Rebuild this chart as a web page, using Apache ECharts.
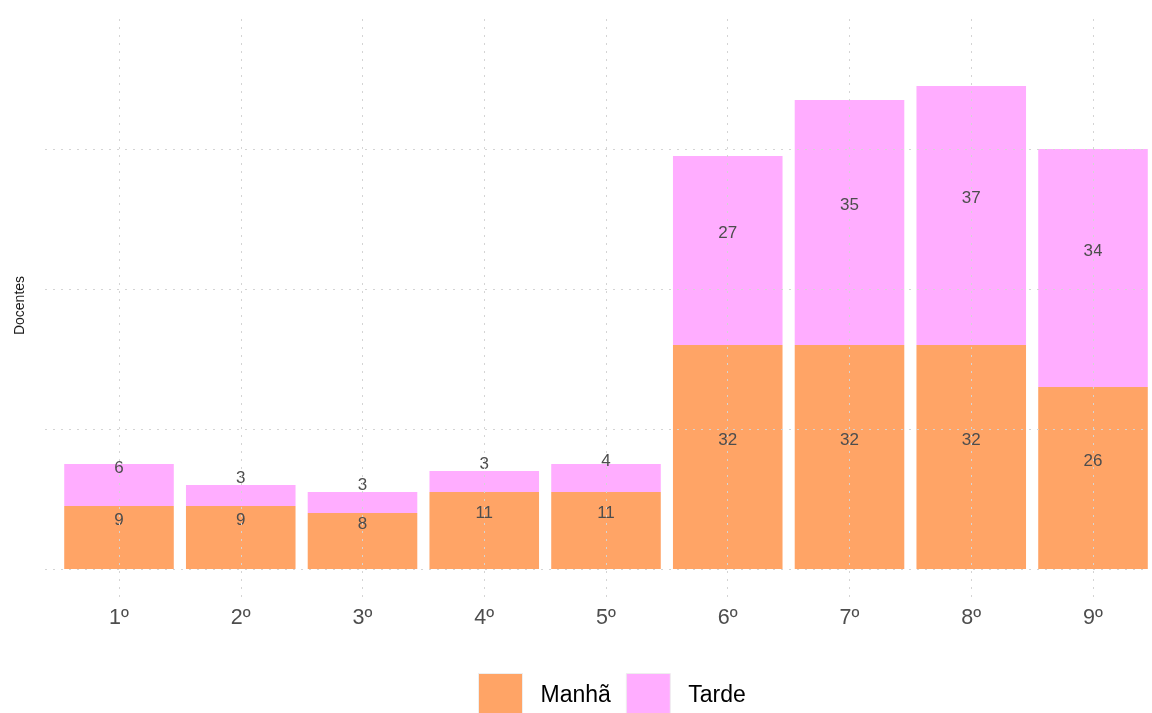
<!DOCTYPE html>
<html><head><meta charset="utf-8">
<script src="https://cdn.jsdelivr.net/npm/echarts@6/dist/echarts.min.js"></script>
<style>html,body{margin:0;padding:0;background:#fff;overflow:hidden}#c{width:1160px;height:713px}</style>
</head><body><div id="c"></div>
<script>
const categories = ['1º','2º','3º','4º','5º','6º','7º','8º','9º'];
const manha = [9, 9, 8, 11, 11, 32, 32, 32, 26];
const tarde = [6, 3, 3, 3, 4, 27, 35, 37, 34];
const yGridValues = [0, 20, 40, 60];
const seriesNames = ['Manhã', 'Tarde'];

const xs = categories.map((_, i) => i + 1);
const font = '"Liberation Sans", Arial, sans-serif';
const gridStyle = { color: '#d4d4d4', width: 1, type: [2, 6] };
const yMin = -4, yMax = 79.29;

const chart = echarts.init(document.getElementById('c'));
chart.setOption({
  animation: false,
  textStyle: { fontFamily: font },
  grid: [
    { left: 58.125, right: 6.125, top: 14, bottom: 116 },
    { left: 45, right: 12, top: 14, bottom: 116 }
  ],
  xAxis: [
    {
      type: 'category', gridIndex: 0, data: categories,
      axisLine: { show: false }, axisTick: { show: false }, splitLine: { show: false },
      axisLabel: { margin: 10, fontSize: 21.5, color: '#4d4d4d', fontFamily: font }
    },
    {
      type: 'value', gridIndex: 1, min: 0.392, max: 9.452, show: false
    }
  ],
  yAxis: [
    {
      type: 'value', gridIndex: 0, min: yMin, max: yMax,
      axisLine: { show: false }, axisTick: { show: false }, splitLine: { show: false },
      axisLabel: { show: false }
    },
    {
      type: 'value', gridIndex: 1, min: yMin, max: yMax,
      axisLine: { show: false }, axisTick: { show: false }, splitLine: { show: false },
      axisLabel: { show: false },
      name: 'Docentes', nameLocation: 'middle', nameRotate: 90, nameGap: 18,
      nameTextStyle: { fontSize: 14, color: '#1a1a1a', fontFamily: font }
    }
  ],
  legend: {
    bottom: -10, left: 473, itemWidth: 44, itemHeight: 44, itemGap: 15,
    icon: 'rect',
    itemStyle: { borderColor: '#eeeeee', borderWidth: 1 },
    textStyle: { fontSize: 23, color: '#000', fontFamily: font, padding: [5, 0, 0, 13] },
    data: seriesNames
  },
  series: [
    {
      type: 'line', xAxisIndex: 1, yAxisIndex: 1, data: [], silent: true, z: 0, symbol: 'none',
      markLine: {
        silent: true, symbol: 'none', label: { show: false },
        lineStyle: gridStyle,
        data: yGridValues.map(v => ({ yAxis: v })).concat(xs.map(v => ({ xAxis: v })))
      }
    },
    {
      name: seriesNames[0], type: 'bar', stack: 'a', barWidth: '90%', z: 2,
      xAxisIndex: 0, yAxisIndex: 0,
      data: manha,
      itemStyle: { color: 'rgba(255,103,0,0.6)' },
      label: { show: true, position: 'inside', offset: [0, -17], fontSize: 17, color: '#4d4d4d',
        fontFamily: font }
    },
    {
      name: seriesNames[1], type: 'bar', stack: 'a', barWidth: '90%', z: 2,
      xAxisIndex: 0, yAxisIndex: 0,
      data: tarde,
      itemStyle: { color: 'rgba(255,119,255,0.6)' },
      label: { show: true, position: 'inside', offset: [0, -17], fontSize: 17, color: '#4d4d4d',
        fontFamily: font }
    }
  ]
});
</script></body></html>
